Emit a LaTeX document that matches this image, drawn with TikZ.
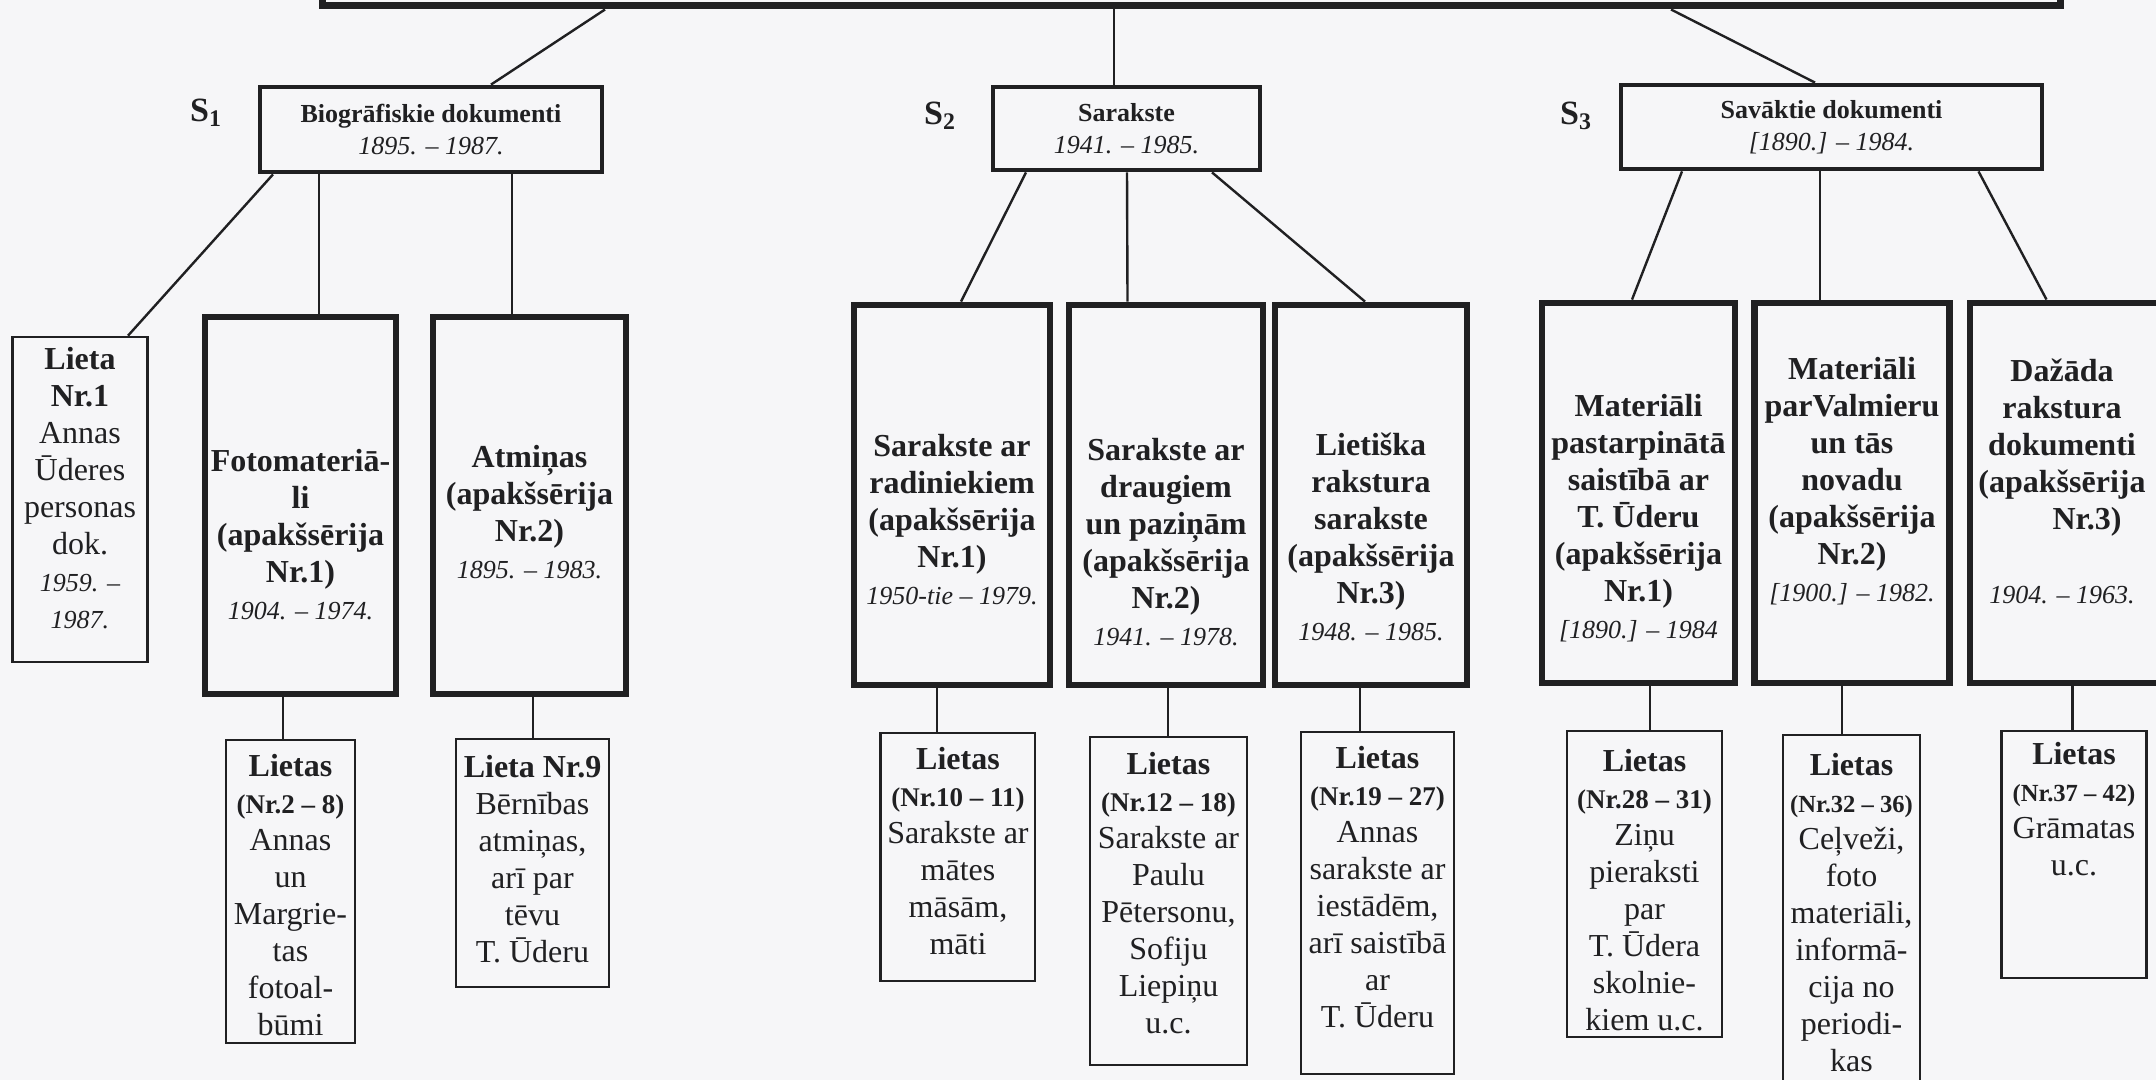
\documentclass[tikz,border=0pt]{standalone}
\usepackage{fontspec}
\setmainfont{Liberation Serif}
\definecolor{ink}{RGB}{32,32,34}
\definecolor{paper}{RGB}{246,246,248}
\newcommand{\yrs}[1]{{\fontsize{13}{16}\selectfont\mdseries\itshape #1}}
\newcommand{\nrs}[2][13.5]{{\fontsize{#1}{16}\selectfont\bfseries #2}}

\begin{document}
\begin{tikzpicture}[x=0.5pt,y=-0.5pt,line join=miter,
  wh/.style 2 args={minimum width=#1*0.5pt,minimum height=#2*0.5pt},
  fond/.style={draw=ink,line width=3.5pt,inner sep=0pt},
  series/.style={draw=ink,line width=2.4pt,inner sep=0pt,align=center,text=ink,
    font=\fontsize{13}{16}\selectfont},
  subser/.style={draw=ink,line width=3.4pt,inner sep=0pt},
  files/.style={draw=ink,line width=1.3pt,inner sep=0pt},
  subtxt/.style={align=center,text=ink,inner sep=0pt,font=\fontsize{16}{18.5}\selectfont\bfseries},
  filetxt/.style={align=center,text=ink,inner sep=0pt,font=\fontsize{16}{18.5}\selectfont},
  slabel/.style={text=ink,inner sep=0pt,font=\fontsize{17}{20}\selectfont\bfseries},
  link/.style={draw=ink,line width=1.2pt}]
\useasboundingbox[fill=paper] (0,0) rectangle (2156,1080);
\clip (0,0) rectangle (2156,1080);
%%
\node[fond,wh={1738}{132}] (fonds) at (1191,-60) {};
%
\node[series,wh={342}{85}] (s1) at (431,129.5) {\textbf{Biogrāfiskie dokumenti}\\\textit{1895. -- 1987.}};
\node[series,wh={267}{83}] (s2) at (1126.5,128.5) {\textbf{Sarakste}\\\textit{1941. -- 1985.}};
\node[series,wh={421}{84}] (s3) at (1831.5,127) {\textbf{Savāktie dokumenti}\\\textit{[1890.] -- 1984.}};
\node[slabel] (sl1) at (206,113) {S\textsubscript{1}};
\node[slabel] (sl2) at (940,116) {S\textsubscript{2}};
\node[slabel] (sl3) at (1576,116) {S\textsubscript{3}};
%
\node[files,wh={135}{325}] (lieta1) at (80,499.5) {};
\node[subser,wh={191}{377}] (foto) at (300.5,505.5) {};
\node[subser,wh={193}{377}] (atm) at (529.5,505.5) {};
\node[subser,wh={196}{380}] (rad) at (952,495) {};
\node[subser,wh={194}{380}] (drau) at (1166,495) {};
\node[subser,wh={192}{380}] (liet) at (1371,495) {};
\node[subser,wh={193}{380}] (mat) at (1638.5,493) {};
\node[subser,wh={195}{380}] (valm) at (1852,493) {};
\node[subser,wh={195}{380}] (daz) at (2067.5,493) {};
%
\node[filetxt] (lieta1t) at (80,488) {\textbf{Lieta}\\\textbf{Nr.1}\\Annas\\Ūderes\\personas\\dok.\\\yrs{1959. --}\\\yrs{1987.}};
\node[subtxt] (fotot) at (300.5,535) {Fotomateriā-\\li\\(apakšsērija\\Nr.1)\\\yrs{1904. -- 1974.}};
\node[subtxt] (atmt) at (529.5,512.5) {Atmiņas\\(apakšsērija\\Nr.2)\\\yrs{1895. -- 1983.}};
\node[subtxt] (radt) at (952,520) {Sarakste ar\\radiniekiem\\(apakšsērija\\Nr.1)\\\yrs{1950-tie -- 1979.}};
\node[subtxt] (draut) at (1166,542) {Sarakste ar\\draugiem\\un paziņām\\(apakšsērija\\Nr.2)\\\yrs{1941. -- 1978.}};
\node[subtxt] (lietat) at (1371,537) {Lietiška\\rakstura\\sarakste\\(apakšsērija\\Nr.3)\\\yrs{1948. -- 1985.}};
\node[subtxt] (matt) at (1638.5,518) {Materiāli\\pastarpinātā\\saistībā ar\\T. Ūderu\\(apakšsērija\\Nr.1)\\\yrs{[1890.] -- 1984}};
\node[subtxt] (valmt) at (1852,481) {Materiāli\\parValmieru\\un tās\\novadu\\(apakšsērija\\Nr.2)\\\yrs{[1900.] -- 1982.}};
\node[subtxt] (dazt) at (2062,481) {Dažāda\\rakstura\\dokumenti\\(apakšsērija\\\hspace*{25pt}Nr.3)\\[18.5pt]\yrs{1904. -- 1963.}};
%
\node[files,wh={129}{303}] (f2) at (290.5,891.5) {};
\node[files,wh={153}{248}] (f9) at (532.5,863) {};
\node[files,wh={154.5}{248}] (f10) at (957.75,857) {};
\node[files,wh={157}{328}] (f12) at (1168.5,901) {};
\node[files,wh={153}{342}] (f19) at (1377.5,903) {};
\node[files,wh={155}{306}] (f28) at (1644.5,884) {};
\node[files,wh={137}{355}] (f32) at (1851.5,912.5) {};
\node[files,wh={145.5}{247}] (f37) at (2074,854.5) {};
%
\node[filetxt] (f2t) at (290.5,895) {\textbf{Lietas}\\\nrs{(Nr.2 -- 8)}\\Annas\\un\\Margrie-\\tas\\fotoal-\\būmi};
\node[filetxt] (f9t) at (532.5,859) {\textbf{Lieta Nr.9}\\Bērnības\\atmiņas,\\arī par\\tēvu\\T. Ūderu};
\node[filetxt] (f10t) at (958,851.5) {\textbf{Lietas}\\\nrs{(Nr.10 -- 11)}\\Sarakste ar\\mātes\\māsām,\\māti};
\node[filetxt] (f12t) at (1168.5,893) {\textbf{Lietas}\\\nrs{(Nr.12 -- 18)}\\Sarakste ar\\Paulu\\Pētersonu,\\Sofiju\\Liepiņu\\u.c.};
\node[filetxt] (f19t) at (1377.5,887.5) {\textbf{Lietas}\\\nrs{(Nr.19 -- 27)}\\Annas\\sarakste ar\\iestādēm,\\arī saistībā\\ar\\T. Ūderu};
\node[filetxt] (f28t) at (1644.5,890.5) {\textbf{Lietas}\\\nrs{(Nr.28 -- 31)}\\Ziņu\\pieraksti\\par\\T. Ūdera\\skolnie-\\kiem u.c.};
\node[filetxt] (f32t) at (1851.5,912.5) {\textbf{Lietas}\\\nrs[12.3]{(Nr.32 -- 36)}\\Ceļveži,\\foto\\materiāli,\\informā-\\cija no\\periodi-\\kas};
\node[filetxt] (f37t) at (2074,809.5) {\textbf{Lietas}\\\nrs[12.3]{(Nr.37 -- 42)}\\Grāmatas\\u.c.};
%
\draw[link] ([xshift=-293pt]fonds.south) -- ([xshift=30pt]s1.north);
\draw[link] ([xshift=-38.5pt]fonds.south) -- ([xshift=-6.25pt]s2.north);
\draw[link] ([xshift=240pt]fonds.south) -- ([xshift=-8.25pt]s3.north);
%
\draw[link] ([xshift=-79pt]s1.south) -- ([xshift=24pt]lieta1.north);
\draw[link] ([xshift=-56pt]s1.south) -- ([xshift=9.25pt]foto.north);
\draw[link] ([xshift=40.5pt]s1.south) -- ([xshift=-8.75pt]atm.north);
\draw[link] ([xshift=-50.25pt]s2.south) -- ([xshift=4.5pt]rad.north);
\draw[link] ([xshift=0.25pt]s2.south) -- ([xshift=-19.25pt]drau.north);
\draw[link] ([xshift=42.75pt]s2.south) -- ([xshift=-3pt]liet.north);
\draw[link] ([xshift=-74.75pt]s3.south) -- ([xshift=-3.25pt]mat.north);
\draw[link] ([xshift=-5.75pt]s3.south) -- ([xshift=-16pt]valm.north);
\draw[link] ([xshift=73.5pt]s3.south) -- ([xshift=-10.5pt]daz.north);
%
\draw[link] ([xshift=-8.75pt]foto.south) -- ([xshift=-3.75pt]f2.north);
\draw[link] ([xshift=1.75pt]atm.south) -- ([xshift=0.25pt]f9.north);
\draw[link] ([xshift=-7.5pt]rad.south) -- ([xshift=-10.375pt]f10.north);
\draw[link] ([xshift=1pt]drau.south) -- ([xshift=-0.25pt]f12.north);
\draw[link] ([xshift=-5.5pt]liet.south) -- ([xshift=-8.75pt]f19.north);
\draw[link] ([xshift=5.75pt]mat.south) -- ([xshift=2.75pt]f28.north);
\draw[link] ([xshift=-5pt]valm.south) -- ([xshift=-4.75pt]f32.north);
\draw[link] ([xshift=2.5pt]daz.south) -- ([xshift=-0.75pt]f37.north);
%
\end{tikzpicture}
\end{document}
